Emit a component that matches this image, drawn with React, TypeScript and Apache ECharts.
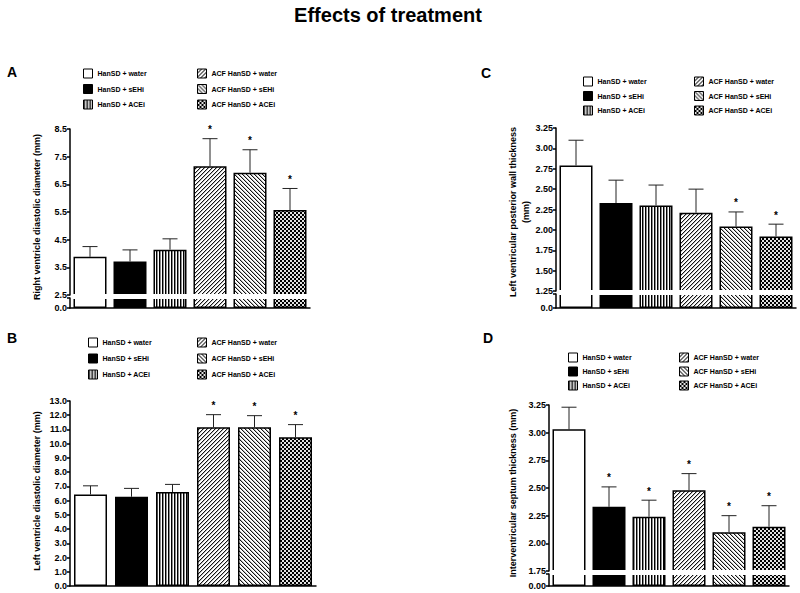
import React, { useEffect, useRef } from 'react';
import * as echarts from 'echarts';

// ---------- data ----------
const groups = [
  'HanSD + water',
  'HanSD + sEHi',
  'HanSD + ACEi',
  'ACF HanSD + water',
  'ACF HanSD + sEHi',
  'ACF HanSD + ACEi',
];

// A: right ventricle diastolic diameter (mm)
const rvddMean = [3.88, 3.71, 4.14, 7.15, 6.92, 5.57];
const rvddSem = [0.37, 0.42, 0.39, 1.0, 0.83, 0.78];
const rvddSig = [0, 0, 0, 1, 1, 1];

// B: left ventricle diastolic diameter (mm)
const lvddMean = [6.43, 6.27, 6.6, 11.15, 11.15, 10.45];
const lvddSem = [0.61, 0.59, 0.54, 0.89, 0.82, 0.89];
const lvddSig = [0, 0, 0, 1, 1, 1];

// C: left ventricular posterior wall thickness (mm)
const lvpwMean = [2.79, 2.33, 2.3, 2.21, 2.04, 1.92];
const lvpwSem = [0.31, 0.28, 0.25, 0.29, 0.18, 0.15];
const lvpwSig = [0, 0, 0, 0, 1, 1];

// D: interventricular septum thickness (mm)
const ivsMean = [3.03, 2.33, 2.24, 2.48, 2.1, 2.15];
const ivsSem = [0.2, 0.18, 0.15, 0.15, 0.15, 0.19];
const ivsSig = [0, 1, 1, 1, 1, 1];

const FONT = '"Liberation Sans", Arial, Helvetica, sans-serif';

function makePattern(kind: string) {
  const w = kind === 'vert' ? 3 : 4;
  const h = kind === 'vert' ? 3 : 4;
  const c = document.createElement('canvas');
  c.width = w;
  c.height = h;
  const g = c.getContext('2d')!;
  const img = g.createImageData(w, h);
  for (let y = 0; y < h; y++) {
    for (let x = 0; x < w; x++) {
      let v = 255;
      if (kind === 'vert') {
        v = x === 0 ? 0 : x === 1 ? 140 : 255;
      } else if (kind === 'fwd') {
        const k = (x + y) % 4;
        v = k === 3 ? 20 : k === 0 ? 185 : 255;
      } else if (kind === 'back') {
        const k = (x - y + 8) % 4;
        v = k === 0 ? 20 : k === 1 ? 185 : 255;
      } else if (kind === 'check') {
        v = ((x >> 1) + (y >> 1)) % 2 === 0 ? 0 : 225;
      }
      const i = (y * w + x) * 4;
      img.data[i] = v;
      img.data[i + 1] = v;
      img.data[i + 2] = v;
      img.data[i + 3] = 255;
    }
  }
  g.putImageData(img, 0, 0);
  return { image: c.toDataURL(), imageWidth: w, imageHeight: h, repeat: 'repeat' };
}

export default function App() {
  const ref = useRef<HTMLDivElement>(null);

  useEffect(() => {
    if (!ref.current) return;
    const chart = echarts.init(ref.current, undefined, { renderer: 'svg' });

    const fills: any[] = [
      '#ffffff',
      '#000000',
      makePattern('vert'),
      makePattern('fwd'),
      makePattern('back'),
      makePattern('check'),
    ];

    const grids: any[] = [];
    const xAxes: any[] = [];
    const yAxes: any[] = [];
    const series: any[] = [];
    const legends: any[] = [];

    const labelStyle = { fontSize: 9, fontWeight: 'bold', fontFamily: FONT, color: '#000' };

    const addGrid = (left: number, width: number, top: number, height: number, showX: boolean,
      min: number, max: number, interval: number, fmt: (v: number) => string) => {
      const gi = grids.length;
      grids.push({ left, width, top, height, containLabel: false });
      xAxes.push(showX
        ? {
            type: 'category', gridIndex: gi, data: groups,
            axisLine: { show: true, onZero: false, lineStyle: { color: '#000', width: 1.5 } },
            axisTick: { show: false }, axisLabel: { show: false }, splitLine: { show: false },
          }
        : { type: 'category', gridIndex: gi, data: groups, show: false });
      yAxes.push({
        type: 'value', gridIndex: gi, min, max, interval,
        axisLine: { show: true, lineStyle: { color: '#000', width: 1.5 } },
        axisTick: { show: true, length: 3, lineStyle: { color: '#000', width: 1.5 } },
        axisLabel: { ...labelStyle, margin: 3, formatter: fmt, showMinLabel: true, showMaxLabel: true },
        splitLine: { show: false },
      });
      return gi;
    };

    const addBars = (gi: number, values: number[], barWidth: number) => {
      groups.forEach((g, i) => {
        series.push({
          type: 'bar', name: g, xAxisIndex: gi, yAxisIndex: gi,
          barWidth, barGap: '-100%', clip: true, silent: true,
          data: values.map((v, j) => (j === i ? v : '-')),
          itemStyle: { color: fills[i], borderColor: '#000', borderWidth: 1.5 },
        });
      });
    };

    const addErr = (gi: number, means: number[], sems: number[], sig: number[]) => {
      series.push({
        type: 'custom', xAxisIndex: gi, yAxisIndex: gi, silent: true, z: 5,
        data: means.map((m, j) => [j, m, m + sems[j], sig[j]]),
        encode: { x: 0, y: [1, 2] },
        renderItem: (params: any, api: any) => {
          const j = api.value(0);
          const m = api.value(1);
          const t = api.value(2);
          const s = api.value(3);
          const p0 = api.coord([j, m]);
          const p1 = api.coord([j, t]);
          const children: any[] = [
            { type: 'line', shape: { x1: p0[0], y1: p0[1], x2: p1[0], y2: p1[1] }, style: { stroke: '#222', lineWidth: 1 } },
            { type: 'line', shape: { x1: p1[0] - 7.5, y1: p1[1], x2: p1[0] + 7.5, y2: p1[1] }, style: { stroke: '#222', lineWidth: 1 } },
          ];
          if (s) {
            children.push({
              type: 'text', x: p1[0], y: p1[1] - 9,
              style: { text: '*', fontSize: 10, fontWeight: 'bold', fontFamily: FONT, fill: '#000', align: 'center', verticalAlign: 'middle' },
            });
          }
          return { type: 'group', children };
        },
      });
    };

    const addLegend = (left1: number, left2: number, top: number, gap: number) => {
      [[0, 1, 2], [3, 4, 5]].forEach((idx, k) => {
        legends.push({
          left: k === 0 ? left1 : left2, top, orient: 'vertical', padding: 0,
          itemWidth: 9, itemHeight: 9, itemGap: gap, icon: 'rect', selectedMode: false,
          data: idx.map((i) => groups[i]),
          textStyle: { fontSize: 7, fontWeight: 'bold', fontFamily: FONT, color: '#000' },
          itemStyle: { borderColor: '#000', borderWidth: 1 },
        });
      });
    };

    const f1 = (v: number) => v.toFixed(1);
    const f2 = (v: number) => v.toFixed(2);

    // Panel A
    let g = addGrid(70, 240, 129, 166, false, 2.5, 8.5, 1, f1);
    addBars(g, rvddMean, 33);
    addErr(g, rvddMean, rvddSem, rvddSig);
    g = addGrid(70, 240, 298, 10, true, 0, 1, 1, (v) => (v === 0 ? '0.0' : ''));
    addBars(g, rvddMean, 33);
    addLegend(83, 197, 68.5, 5.5);

    // Panel B
    g = addGrid(70, 246, 401, 185, true, 0, 13, 1, f1);
    addBars(g, lvddMean, 33);
    addErr(g, lvddMean, lvddSem, lvddSig);
    addLegend(88, 197, 337.5, 6);

    // Panel C
    g = addGrid(556, 240, 128, 163, false, 1.25, 3.25, 0.25, f2);
    addBars(g, lvpwMean, 33);
    addErr(g, lvpwMean, lvpwSem, lvpwSig);
    g = addGrid(556, 240, 294, 14, true, 0, 1, 1, (v) => (v === 0 ? '0.0' : ''));
    addBars(g, lvpwMean, 33);
    addLegend(583, 694, 76.5, 4.5);

    // Panel D
    g = addGrid(549, 240, 405, 166, false, 1.75, 3.25, 0.25, f2);
    addBars(g, ivsMean, 33);
    addErr(g, ivsMean, ivsSem, ivsSig);
    g = addGrid(549, 240, 574, 12, true, 0, 1, 1, (v) => (v === 0 ? '0.00' : ''));
    addBars(g, ivsMean, 33);
    addLegend(568, 679, 352.5, 4);

    const txt = (text: string, x: number, y: number, size: number, rot = 0, lh?: number) => ({
      type: 'text', x, y, rotation: rot, z: 60, silent: true,
      style: {
        text, fontSize: size, fontWeight: 'bold', fontFamily: FONT, fill: '#000',
        align: 'center', verticalAlign: 'middle', lineHeight: lh,
      },
    });
    const gapRect = (x1: number, x2: number, y1: number, y2: number) => ({
      type: 'rect', z: 50, silent: true,
      shape: { x: x1, y: y1, width: x2 - x1, height: y2 - y1 },
      style: { fill: '#ffffff', stroke: null },
    });

    const graphic: any[] = [
      txt('Effects of treatment', 388, 15, 20),
      txt('A', 12, 72, 14),
      txt('B', 12, 338, 14),
      txt('C', 486, 73, 14),
      txt('D', 488, 338, 14),
      txt('Right ventricle diastolic diameter (mm)', 37, 217, 9, Math.PI / 2),
      txt('Left ventricle diastolic diameter (mm)', 37, 491, 9, Math.PI / 2),
      txt('Left ventricular posterior wall thickness\n(mm)', 519.5, 212, 9, Math.PI / 2, 13),
      txt('Interventricular septum thickness (mm)', 513, 493, 9, Math.PI / 2),
      gapRect(71.5, 311, 294, 299),
      gapRect(557.5, 797, 290, 295),
      gapRect(550.5, 790, 570, 575),
    ];

    chart.setOption({
      animation: false,
      backgroundColor: '#ffffff',
      textStyle: { fontFamily: FONT },
      grid: grids,
      xAxis: xAxes,
      yAxis: yAxes,
      legend: legends,
      series,
      graphic,
    });

    return () => chart.dispose();
  }, []);

  return (
    <div
      ref={ref}
      style={{ position: 'absolute', left: 0, top: 0, width: 800, height: 593, background: '#fff' }}
    />
  );
}
